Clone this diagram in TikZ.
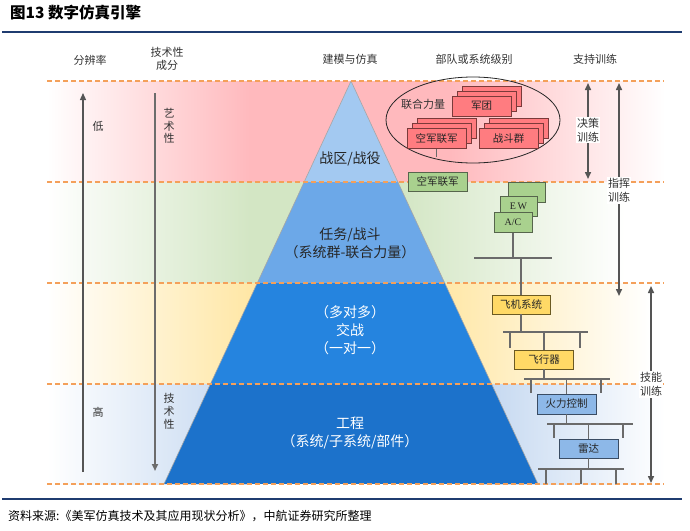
\documentclass[tikz,border=0pt]{standalone}
\usepackage{fontspec}
\newfontfamily\cjk{Noto Sans CJK SC}
\newfontfamily\lser{Liberation Serif}
\usetikzlibrary{arrows.meta}
\definecolor{bandpink}{HTML}{FFB9BD}
\definecolor{bandgreen}{HTML}{D3E6C4}
\definecolor{bandyellow}{HTML}{FFE7A6}
\definecolor{bandblue}{HTML}{C3D7F0}
\definecolor{pyr1}{HTML}{A3C9F1}
\definecolor{pyr2}{HTML}{6CA8E8}
\definecolor{pyr3}{HTML}{2584DF}
\definecolor{pyr4}{HTML}{1C72CB}
\definecolor{dashor}{HTML}{F4A05A}
\definecolor{rulblue}{HTML}{1F3C70}
\definecolor{redfill}{HTML}{FF7C80}
\definecolor{redline}{HTML}{7A3A3A}
\definecolor{grnfill}{HTML}{A9D18E}
\definecolor{grnline}{HTML}{56654C}
\definecolor{yelfill}{HTML}{FFD966}
\definecolor{yelline}{HTML}{6B5A22}
\definecolor{blufill}{HTML}{8DB8E8}
\definecolor{bluline}{HTML}{3A4C63}
\definecolor{treeln}{HTML}{6A6A6A}
\definecolor{arrgray}{HTML}{555555}
\definecolor{txtgray}{HTML}{333333}
\tikzset{
  hdr/.style={font=\cjk\fontsize{11}{13}\selectfont, text=txtgray, align=center, inner sep=0},
  sidetxt/.style={font=\cjk\fontsize{11}{13.5}\selectfont, text=txtgray, align=center, inner sep=0},
  pyrtxt/.style={font=\cjk\fontsize{14}{18}\selectfont, align=center, inner sep=0},
  boxbase/.style={draw, line width=0.9pt, inner sep=0, outer sep=0, minimum width=59pt, minimum height=20pt, font=\cjk\fontsize{10.5}{12}\selectfont, text=black!85},
  redbox/.style={boxbase, fill=redfill, draw=redline},
  grnbox/.style={boxbase, fill=grnfill, draw=grnline},
  yelbox/.style={boxbase, fill=yelfill, draw=yelline, minimum height=19pt},
  blubox/.style={boxbase, fill=blufill, draw=bluline},
  tree/.style={draw=treeln, line width=1.3pt},
  dline/.style={draw=dashor, line width=1.1pt, dash pattern=on 5pt off 3pt},
  trainarr/.style={draw=arrgray, line width=1.5pt, {Triangle[length=7pt,width=6pt]}-{Triangle[length=7pt,width=6pt]}},
  traintxt/.style={font=\cjk\fontsize{11}{14}\selectfont, text=txtgray, align=center, fill=white, inner sep=1pt},
}
\begin{document}
\begin{tikzpicture}[x=1pt,y=-1pt]
\useasboundingbox (0,0) rectangle (690,530);
% title and rules
\node[anchor=west, font=\cjk\bfseries\fontsize{15.5}{18}\selectfont, inner sep=0] (title) at (10,13) {图13\ 数字仿真引擎};
\draw[rulblue, line width=1.3pt] (2,32) -- (682,32);
\draw[rulblue, line width=1.3pt] (2,499) -- (682,499);
\node[anchor=west, font=\cjk\fontsize{12}{15}\selectfont, inner sep=0] (src) at (8,516) {资料来源:《美军仿真技术及其应用现状分析》，中航证券研究所整理};
% headers
\node[hdr] (h1) at (90,60) {分辨率};
\node[hdr, font=\cjk\fontsize{11}{13}\selectfont] (h2) at (167,58.5) {技术性\\成分};
\node[hdr] (h3) at (350,59) {建模与仿真};
\node[hdr] (h4) at (474,59) {部队或系统级别};
\node[hdr] (h5) at (595,59) {支持训练};
% bands
\foreach \ya/\yb/\c/\ra/\rb in {81/182/bandpink/450/665, 182/283/bandgreen/400/625, 283/384/bandyellow/440/650, 384/484/bandblue/480/665}{
  \shade[left color=white, right color=\c] (47,\ya) rectangle (250,\yb);
  \fill[\c] (250,\ya) rectangle (\ra,\yb);
  \shade[left color=\c, right color=white] (\ra,\ya) rectangle (\rb,\yb);
}
% pyramid
\begin{scope}
  \clip (351,81) -- (538,484) -- (164,484) -- cycle;
  \fill[pyr1] (150,81) rectangle (550,182);
  \fill[pyr2] (150,182) rectangle (550,283);
  \fill[pyr3] (150,283) rectangle (550,384);
  \fill[pyr4] (150,384) rectangle (550,484);
\end{scope}
\draw[gray!70, line width=0.6pt] (164,484) -- (351,81) -- (538,484);
% dashed lines
\foreach \y in {81,182,283,384,484}{ \draw[dline] (47,\y) -- (664,\y); }
% pyramid texts
\node[pyrtxt, text=black!85] (p1) at (350,159) {战区/战役};
\node[pyrtxt, text=black!85] (p2) at (350,243) {任务/战斗\\（系统群-联合力量）};
\node[pyrtxt, text=white] (p3) at (350,330.5) {（多对多）\\交战\\（一对一）};
\node[pyrtxt, text=white] (p4) at (350,433) {工程\\（系统/子系统/部件）};
% left arrows
\coordinate (r1) at (83,472); \coordinate (r2) at (83,93);
\draw[arrgray, line width=1.2pt, -{Triangle[length=7pt,width=6pt]}] (r1) -- (r2);
\coordinate (t1) at (155,93); \coordinate (t2) at (155,471);
\draw[gray!85!black, line width=2pt, -{Triangle[length=7pt,width=6pt]}] (t1) -- (t2);
\node[sidetxt] (low) at (98,126) {低};
\node[sidetxt] (high) at (98,412) {高};
\node[sidetxt, font=\cjk\fontsize{11}{12.8}\selectfont] (art) at (169,126) {艺\\术\\性};
\node[sidetxt, font=\cjk\fontsize{11}{12.8}\selectfont] (tech) at (169,411.5) {技\\术\\性};
% ellipse group
\draw[gray!30!black, line width=0.8pt] (473,120) ellipse [x radius=87pt, y radius=43pt];
\node[font=\cjk\fontsize{11}{13}\selectfont, text=txtgray, inner sep=0] (lhl) at (423,104) {联合力量};
\node[redbox] (jt3) at (491.5,96) {};
\node[redbox] (jt2) at (486.5,101) {};
\node[redbox] (jt1) at (481.5,106) {军团};
\node[redbox] (kj3) at (446.5,128.5) {};
\node[redbox] (kj2) at (441.5,133.5) {};
\node[redbox] (kj1) at (436.5,138.5) {空军联军};
\node[redbox] (zd3) at (518.5,128.5) {};
\node[redbox] (zd2) at (513.5,133.5) {};
\node[redbox] (zd1) at (508.5,138.5) {战斗群};
\coordinate (kjend) at (436.5,157);
\draw[tree, line width=1pt] (kj1.south) -- (kjend);
% green
\node[grnbox, minimum height=19pt] (gkj) at (437.5,181.5) {空军联军};
\node[grnbox, minimum width=37pt] (g3) at (526.5,192) {};
\node[grnbox, minimum width=37pt, font=\lser\fontsize{10}{12}\selectfont] (gew) at (518.5,206) {E\,W};
\node[grnbox, minimum width=38pt, font=\lser\fontsize{10}{12}\selectfont] (gac) at (513,222.5) {A/C};
% tree
\coordinate (b1m) at (513,258); \coordinate (b1l) at (474,258); \coordinate (b1r) at (552,258); \coordinate (b1d) at (521,258);
\draw[tree] (gac.south) -- (b1m);
\draw[tree] (b1l) -- (b1r);
\node[yelbox, minimum width=58pt] (fjxt) at (521,304.5) {飞机系统};
\draw[tree] (b1d) -- (fjxt.north);
% level 2
\coordinate (b2m) at (521,332); \coordinate (b2l) at (503,332); \coordinate (b2r) at (588,332);
\coordinate (b2a) at (510,332); \coordinate (b2ae) at (510,348);
\coordinate (b2b) at (544,332);
\coordinate (b2c) at (580,332); \coordinate (b2ce) at (580,348);
\draw[tree] (fjxt.south) -- (b2m);
\draw[tree] (b2l) -- (b2r);
\draw[tree] (b2a) -- (b2ae);
\draw[tree] (b2c) -- (b2ce);
\node[yelbox] (fxq) at (544,359.5) {飞行器};
\draw[tree] (b2b) -- (fxq.north);
% level 3
\coordinate (b3m) at (544,379); \coordinate (b3l) at (524,379); \coordinate (b3r) at (610,379);
\coordinate (b3a) at (531,379); \coordinate (b3ae) at (531,393);
\coordinate (b3b) at (566.5,379);
\coordinate (b3c) at (601,379); \coordinate (b3ce) at (601,393);
\draw[tree] (fxq.south) -- (b3m);
\draw[tree] (b3l) -- (b3r);
\draw[tree] (b3a) -- (b3ae);
\draw[tree] (b3c) -- (b3ce);
\node[blubox] (hlkz) at (566.5,404) {火力控制};
\draw[tree] (b3b) -- (hlkz.north);
% level 4
\coordinate (b4m) at (566.5,424); \coordinate (b4l) at (547,424); \coordinate (b4r) at (633,424);
\coordinate (b4a) at (554,424); \coordinate (b4ae) at (554,438);
\coordinate (b4b) at (588.5,424);
\coordinate (b4c) at (623,424); \coordinate (b4ce) at (623,438);
\draw[tree] (hlkz.south) -- (b4m);
\draw[tree] (b4l) -- (b4r);
\draw[tree] (b4a) -- (b4ae);
\draw[tree] (b4c) -- (b4ce);
\node[blubox, minimum height=19pt] (ld) at (588.5,448.5) {雷达};
\draw[tree] (b4b) -- (ld.north);
% level 5
\coordinate (b5m) at (588.5,469); \coordinate (b5l) at (538,469); \coordinate (b5r) at (624,469);
\coordinate (b5a) at (546,469); \coordinate (b5ae) at (546,484);
\coordinate (b5b) at (581,469); \coordinate (b5be) at (581,484);
\coordinate (b5c) at (616,469); \coordinate (b5ce) at (616,484);
\draw[tree] (ld.south) -- (b5m);
\draw[tree] (b5l) -- (b5r);
\draw[tree] (b5a) -- (b5ae);
\draw[tree] (b5b) -- (b5be);
\draw[tree] (b5c) -- (b5ce);
% training arrows
\coordinate (a1t) at (588,83); \coordinate (a1b) at (588,179);
\draw[trainarr] (a1t) -- (a1b);
\node[traintxt] (jc) at (588,130) {决策\\训练};
\coordinate (a2t) at (619,83); \coordinate (a2b) at (619,296);
\draw[trainarr] (a2t) -- (a2b);
\node[traintxt] (zh) at (619,190.5) {指挥\\训练};
\coordinate (a3t) at (651,286); \coordinate (a3b) at (651,483);
\draw[trainarr] (a3t) -- (a3b);
\node[traintxt] (jn) at (651,384.5) {技能\\训练};
\end{tikzpicture}
\end{document}
